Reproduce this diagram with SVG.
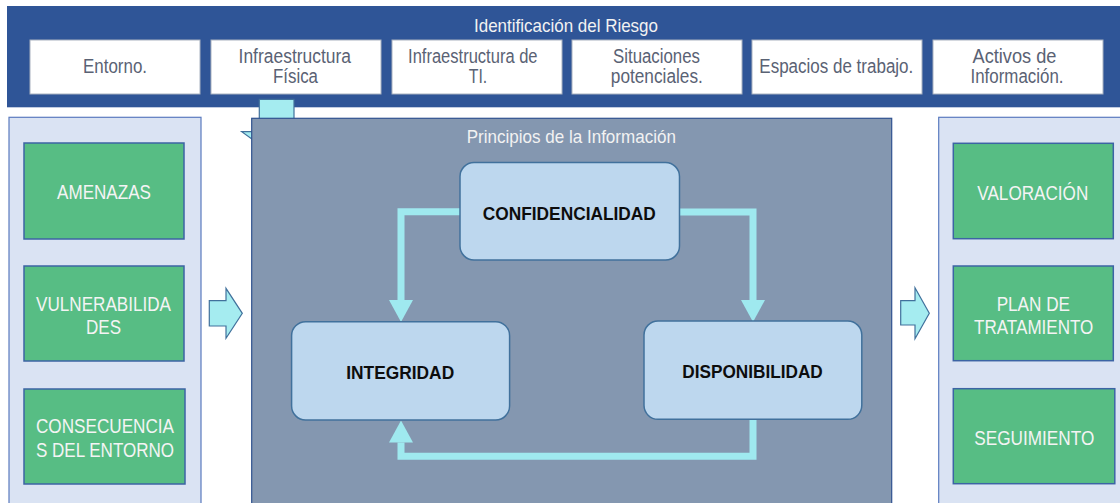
<svg xmlns="http://www.w3.org/2000/svg" width="1120" height="503" viewBox="0 0 1120 503">
<style>
text{font-family:"Liberation Sans",Arial,sans-serif;text-anchor:middle}
.t{font-size:19.5px;fill:#5A6274}
.title{font-size:19px;fill:#F2F2F2}
.g{font-size:20.5px;fill:#F4F4F4}
.b{font-size:19px;font-weight:bold;fill:#0D0D0D}
.wbox{fill:#FFFFFF;stroke:#A9B2C0;stroke-width:1}
.panel{fill:#DAE3F3;stroke:#5B7BBF;stroke-width:1.2}
.green{fill:#57BD84;stroke:#3C64A4;stroke-width:1.5}
.rbox{fill:#BDD7EE;stroke:#41719C;stroke-width:1.5}
.block{fill:#A5ECF0;stroke:#41719C;stroke-width:1.2}
.conn{fill:none;stroke:#9FE9EF;stroke-width:7;stroke-linejoin:miter}
</style>
<defs>
<marker id="head" markerUnits="userSpaceOnUse" markerWidth="22" markerHeight="24" viewBox="0 0 22 24" refX="0" refY="12" orient="auto">
<path d="M0,0 L22,12 L0,24 z" fill="#9FE9EF"/>
</marker>
</defs>
<rect width="1120" height="503" fill="#FFFFFF"/>

<g id="banner">
<rect x="7" y="6" width="1120" height="101.3" fill="#2F5597"/>
<text class="title" x="566" y="31.7" textLength="184" lengthAdjust="spacingAndGlyphs">Identificación del Riesgo</text>
</g>
<g id="entorno">
<rect class="wbox" x="30" y="40" width="170" height="54"/>
<text class="t" x="115" y="72.7" textLength="64" lengthAdjust="spacingAndGlyphs">Entorno.</text>
</g>
<g id="infra-fisica">
<rect class="wbox" x="211" y="40" width="170" height="54"/>
<text class="t" x="294.8" y="63.3" textLength="112.5" lengthAdjust="spacingAndGlyphs">Infraestructura</text>
<text class="t" x="295.5" y="83.3" textLength="45" lengthAdjust="spacingAndGlyphs">Física</text>
</g>
<g id="infra-ti">
<rect class="wbox" x="392" y="40" width="170" height="54"/>
<text class="t" x="472.8" y="63.3" textLength="129.5" lengthAdjust="spacingAndGlyphs">Infraestructura de</text>
<text class="t" x="478" y="83.3" textLength="18.5" lengthAdjust="spacingAndGlyphs">TI.</text>
</g>
<g id="situaciones">
<rect class="wbox" x="572" y="40" width="170" height="54"/>
<text class="t" x="656.5" y="63.3" textLength="87" lengthAdjust="spacingAndGlyphs">Situaciones</text>
<text class="t" x="656.8" y="83.3" textLength="92" lengthAdjust="spacingAndGlyphs">potenciales.</text>
</g>
<g id="espacios">
<rect class="wbox" x="752" y="40" width="170" height="54"/>
<text class="t" x="836.3" y="73.3" textLength="154" lengthAdjust="spacingAndGlyphs">Espacios de trabajo.</text>
</g>
<g id="activos">
<rect class="wbox" x="933" y="40" width="170" height="54"/>
<text class="t" x="1014.5" y="63.3" textLength="84" lengthAdjust="spacingAndGlyphs">Activos de</text>
<text class="t" x="1017" y="83.3" textLength="93" lengthAdjust="spacingAndGlyphs">Información.</text>
</g>

<g id="left-panel">
<rect class="panel" x="9" y="117.3" width="192" height="400"/>
</g>
<g id="amenazas">
<rect class="green" x="24" y="143" width="160" height="96"/>
<text class="g" x="104" y="199.3" textLength="94" lengthAdjust="spacingAndGlyphs">AMENAZAS</text>
</g>
<g id="vulnerabilidades">
<rect class="green" x="24" y="266" width="160" height="95"/>
<text class="g" x="103.5" y="310.7" textLength="135" lengthAdjust="spacingAndGlyphs">VULNERABILIDA</text>
<text class="g" x="103.5" y="334" textLength="35" lengthAdjust="spacingAndGlyphs">DES</text>
</g>
<g id="consecuencias">
<rect class="green" x="24" y="389" width="161" height="95"/>
<text class="g" x="105" y="432.7" textLength="138" lengthAdjust="spacingAndGlyphs">CONSECUENCIA</text>
<text class="g" x="105" y="456.7" textLength="138" lengthAdjust="spacingAndGlyphs">S DEL ENTORNO</text>
</g>

<g id="right-panel">
<rect class="panel" x="938.7" y="117.3" width="200" height="400"/>
</g>
<g id="valoracion">
<rect class="green" x="953.3" y="143.3" width="160" height="95.4"/>
<text class="g" x="1032.8" y="200" textLength="111" lengthAdjust="spacingAndGlyphs">VALORACIÓN</text>
</g>
<g id="plan">
<rect class="green" x="953.3" y="266" width="160" height="94.7"/>
<text class="g" x="1033.3" y="310.7" textLength="73.3" lengthAdjust="spacingAndGlyphs">PLAN DE</text>
<text class="g" x="1033.7" y="334" textLength="119.3" lengthAdjust="spacingAndGlyphs">TRATAMIENTO</text>
</g>
<g id="seguimiento">
<rect class="green" x="953.3" y="388.7" width="161.5" height="95"/>
<text class="g" x="1034.3" y="444.7" textLength="120" lengthAdjust="spacingAndGlyphs">SEGUIMIENTO</text>
</g>

<g id="down-arrow">
<polygon class="block" points="259.3,99.3 294,99.3 294,131.7 311.5,131.7 276.7,157 241.7,131.7 259.3,131.7"/>
</g>

<g id="principios">
<rect x="251.7" y="118.3" width="640" height="400" fill="#8497B0" stroke="#2F528F" stroke-width="1.2"/>
<text class="title" x="571.3" y="142.7" textLength="209.3" lengthAdjust="spacingAndGlyphs">Principios de la Información</text>
</g>

<g id="arrow-left">
<polygon class="block" points="209.3,300.7 226,300.7 226,288.3 242.3,313.3 226,338.3 226,326 209.3,326"/>
</g>
<g id="arrow-right">
<polygon class="block" points="900.7,300.7 915,300.7 915,287.7 929.3,313.2 915,338.7 915,325 900.7,325"/>
</g>

<g id="connectors">
<polyline class="conn" points="460,211.7 401,211.7 401,300" marker-end="url(#head)"/>
<polyline class="conn" points="679,212 753,212 753,300" marker-end="url(#head)"/>
<polyline class="conn" points="753,419.3 753,456.3 401,456.3 401,442.5" marker-end="url(#head)"/>
</g>

<g id="confidencialidad">
<rect class="rbox" x="460" y="162.5" width="219.5" height="97.5" rx="14"/>
<text class="b" x="569.3" y="220" textLength="173" lengthAdjust="spacingAndGlyphs">CONFIDENCIALIDAD</text>
</g>
<g id="integridad">
<rect class="rbox" x="291.6" y="321.7" width="218" height="98.3" rx="14"/>
<text class="b" x="400.2" y="379.3" textLength="108" lengthAdjust="spacingAndGlyphs">INTEGRIDAD</text>
</g>
<g id="disponibilidad">
<rect class="rbox" x="644" y="321" width="217.8" height="98.3" rx="14"/>
<text class="b" x="752.5" y="378.3" textLength="140.5" lengthAdjust="spacingAndGlyphs">DISPONIBILIDAD</text>
</g>
</svg>
